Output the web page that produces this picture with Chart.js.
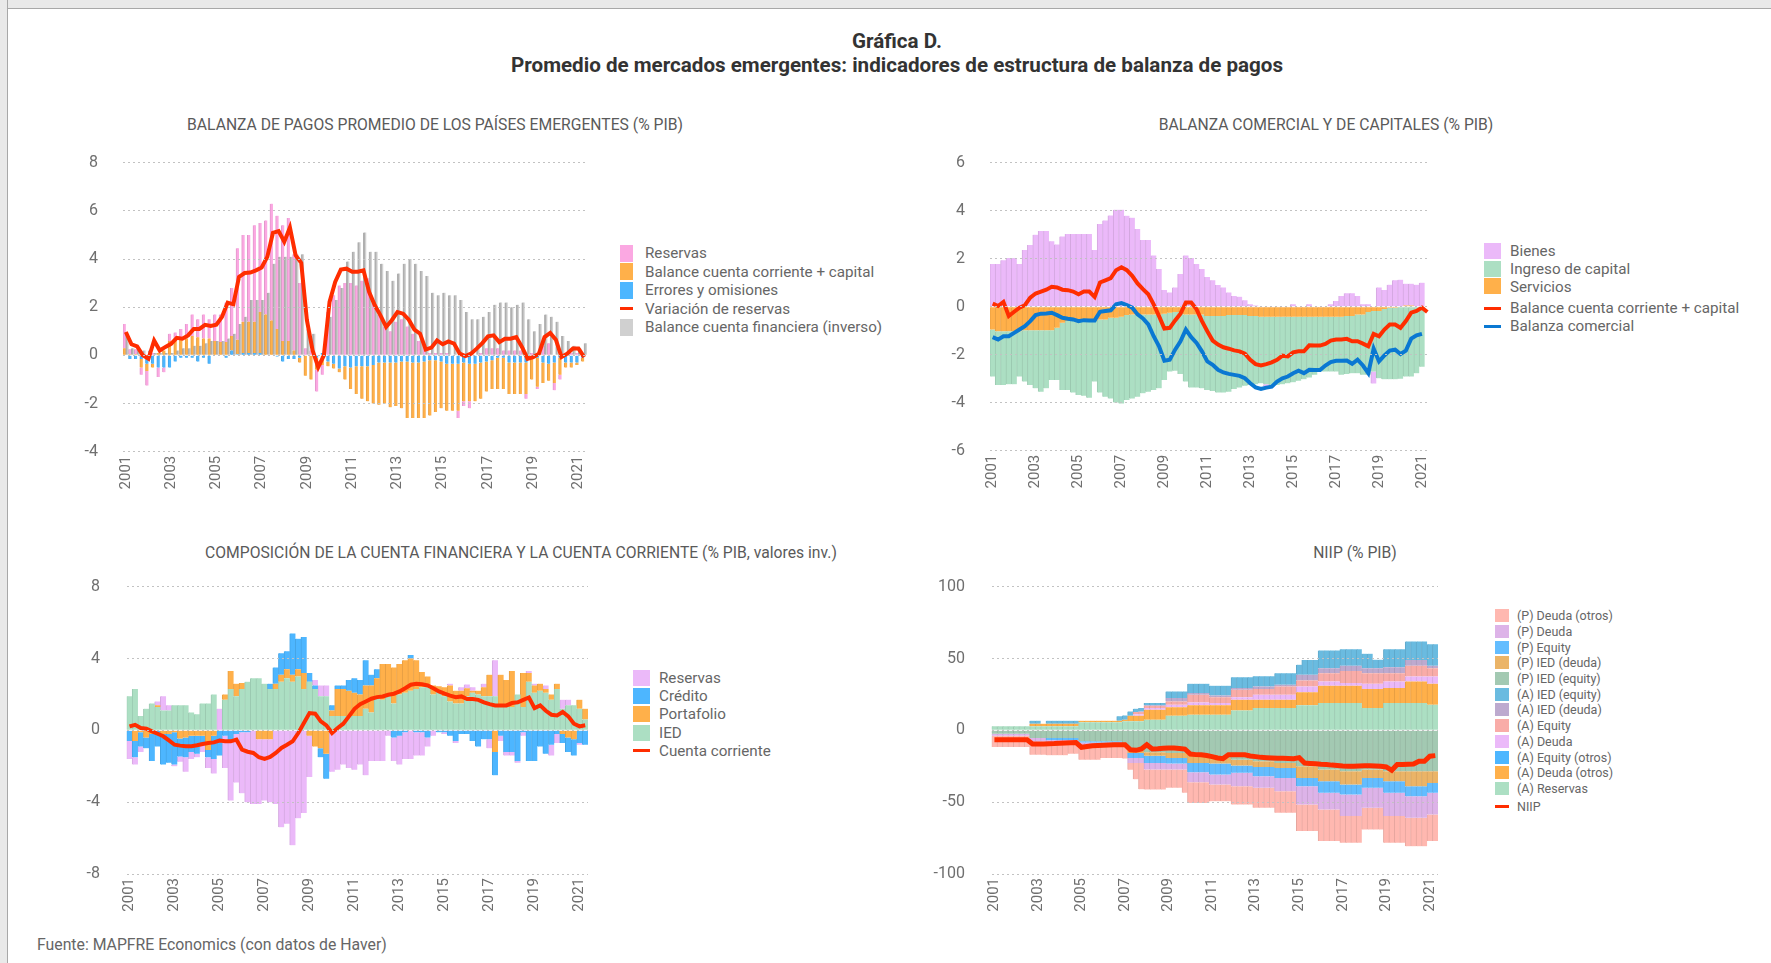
<!DOCTYPE html>
<html lang="es">
<head>
<meta charset="utf-8">
<title>Gráfica D.</title>
<script src="https://cdn.jsdelivr.net/npm/chart.js@4.4.1/dist/chart.umd.min.js"></script>
<style>
  html, body { margin: 0; padding: 0; }
  body { position: relative; width: 1771px; height: 963px; background: #fff; overflow: hidden;
         font-family: Roboto, "Noto Sans", sans-serif; color: #666; }
  .frameTop { position: absolute; left: 0; top: 0; width: 1771px; height: 8px; background: #e9e9e9; border-bottom: 1px solid #a8a8a8; }
  .frameLeft { position: absolute; left: 0; top: 0; width: 7px; height: 963px; background: #e9e9e9; border-right: 1px solid #a8a8a8; }
  .t { position: absolute; width: 900px; text-align: center; white-space: nowrap; }
  .main { font-size: 20.6px; font-weight: 700; color: #333; line-height: 24px; }
  .ptitle { font-size: 15.7px; color: #5a5a5a; line-height: 18px; }
  canvas { position: absolute; }
  .legend { position: absolute; font-size: 15.2px; color: #666; }
  .legend .row { display: flex; align-items: center; white-space: nowrap; }
  .legend .box { flex: none; }
  .legend .ln { flex: none; height: 3px; }
  .foot { position: absolute; left: 37px; top: 935px; font-size: 15.8px; color: #666; line-height: 20px; }
</style>
</head>
<body>
<div class="frameTop"></div>
<div class="frameLeft"></div>

<div class="t main" style="left:447px; top:29px;">Gráfica D.</div>
<div class="t main" style="left:447px; top:53px;">Promedio de mercados emergentes: indicadores de estructura de balanza de pagos</div>

<div class="t ptitle" style="left:-15px; top:116px;">BALANZA DE PAGOS PROMEDIO DE LOS PAÍSES EMERGENTES (% PIB)</div>
<div class="t ptitle" style="left:876px; top:116px;">BALANZA COMERCIAL Y DE CAPITALES (% PIB)</div>
<div class="t ptitle" style="left:71px; top:544px;">COMPOSICIÓN DE LA CUENTA FINANCIERA Y LA CUENTA CORRIENTE (% PIB, valores inv.)</div>
<div class="t ptitle" style="left:905px; top:544px;">NIIP (% PIB)</div>

<canvas id="c1" width="560" height="365" style="left:40px; top:140px;"></canvas>
<canvas id="c2" width="560" height="365" style="left:900px; top:140px;"></canvas>
<canvas id="c3" width="560" height="360" style="left:40px; top:565px;"></canvas>
<canvas id="c4" width="560" height="360" style="left:900px; top:565px;"></canvas>

<div class="legend" id="lg1" style="left:620px; top:244px;"></div>
<div class="legend" id="lg2" style="left:1484px; top:242px;"></div>
<div class="legend" id="lg3" style="left:633px; top:669px;"></div>
<div class="legend" id="lg4" style="left:1495px; top:608px; font-size:12.5px;"></div>

<div class="foot">Fuente: MAPFRE Economics (con datos de Haver)</div>

<script>
// quarters 2001T1 .. 2021T2
const quarters = [];
for (let y = 2001; y <= 2021; y++) {
  for (let q = 1; q <= 4; q++) {
    if (quarters.length < 82) quarters.push(y + 'T' + q);
  }
}

// colours
const PINK = '#fba8e2';
const ORANGE = '#ffb04a';
const BLUE = '#4db6ff';
const RED = '#ff2d00';
const GREY = '#d0d0d0';
const LAVENDER = '#ebb9f9';
const MINT = '#acdfc3';
const DARKBLUE = '#0a78d2';

// ---- panel 1: balanza de pagos promedio ----
const p1Errores = [
  0, -0.15, -0.15, -0.15,
  -0.35, -0.35, -0.5, -0.5,
  -0.5, -0.25, -0.1, -0.1,
  -0.1, -0.25, -0.1, -0.35,
  0, 0, -0.1, 0.2,
  0.05, 0.1, 0.1, 0.1,
  0.1, 0, 0, -0.05,
  -0.25, -0.15, -0.15, -0.1,
  0, 0, -0.1, 0.1,
  -0.25, -0.35, -0.55, -0.45,
  -0.5, -0.45, -0.45, -0.45,
  -0.4, -0.3, -0.3, -0.3,
  -0.3, -0.25, -0.25, -0.3,
  -0.3, -0.25, -0.2, -0.2,
  -0.25, -0.35, -0.35, -0.35,
  -0.3, -0.35, -0.35, -0.3,
  -0.25, -0.2, -0.1, -0.1,
  -0.3, -0.3, -0.3, -0.3,
  -0.05, -0.1, -0.3, -0.35,
  -0.3, -0.1, -0.3, -0.3,
  -0.3, -0.1
];
const p1Corriente = [
  0.3, 0.05, 0.05, -0.35,
  -0.3, -0.15, 0.1, 0.2,
  0.6, 0.6, 0.7, 0.7,
  0.8, 0.75, 0.7, 0.7,
  0.6, 0.55, 0.55, 0.6,
  0.6, 1.3, 1.3, 1.3,
  1.7, 1.7, 1.45, 1.1,
  0.6, 0.6, 0.2, -0.2,
  -0.85, -1.0, -0.5, -0.4,
  -0.2, -0.2, -0.15, -0.55,
  -0.9, -1.15, -1.35, -1.45,
  -1.6, -1.75, -1.7, -1.85,
  -1.8, -1.95, -2.35, -2.3,
  -2.3, -2.35, -2.3, -2.15,
  -1.95, -1.95, -1.95, -1.95,
  -1.6, -1.55, -1.55, -1.5,
  -1.25, -1.2, -1.3, -1.3,
  -1.3, -1.3, -1.3, -1.3,
  -0.95, -1.2, -0.85, -0.7,
  -0.85, -0.7, -0.2, -0.2,
  -0.1, -0.15
];
const p1Reservas = [
  1.0, 0.2, 0.2, -0.3,
  -0.6, 0.1, -0.4, -0.2,
  0.3, 0.35, 0.4, 0.6,
  0.9, 0.75, 1.0, 0.8,
  1.1, 1.15, 1.65, 2.0,
  3.8, 3.6, 3.6, 4.0,
  3.7, 3.9, 4.85, 4.7,
  4.8, 5.1, 4.0, 3.0,
  0.3, 0.2, -0.9, -0.4,
  1.8, 2.5, 2.9, 3.0,
  3.0, 2.9, 3.1, 3.2,
  2.2, 1.7, 1.2, 1.0,
  1.4, 1.5, 1.2, 0.9,
  0.6, 0.4, 0.1, 0.1,
  0.1, 0.1, 0.0, -0.3,
  -0.2, -0.3, 0.0, 0.1,
  0.3, 0.3, 0.3, 0.2,
  0.2, 0.2, 0.2, -0.2,
  0.1, -0.1, 0.4, 0.5,
  -0.3, -0.2, 0.0, 0.1,
  0.1, 0.1
];
const p1Financiera = [
  0.9, 0.3, 0.3, 0.2,
  0.2, 0.1, 0.1, 0.1,
  0.1, 0.2, 0.3, 0.3,
  0.4, 0.4, 0.5, 0.6,
  0.6, 0.6, 0.7, 0.9,
  1.3, 1.6, 2.3, 2.3,
  2.3, 2.6, 3.8, 4.1,
  4.1, 4.1, 4.2, 4.2,
  1.1, 0.9, 0.0, 0.0,
  1.6, 2.3, 2.8, 3.9,
  4.3, 4.7, 5.1, 4.3,
  4.3, 3.8, 3.5, 3.1,
  3.4, 3.8, 4.0, 3.8,
  3.5, 3.3, 2.6, 2.5,
  2.6, 2.5, 2.5, 2.3,
  1.8, 1.5, 1.5, 1.6,
  1.8, 2.1, 2.2, 2.2,
  2.0, 2.1, 2.2, 1.5,
  1.0, 1.3, 1.7, 1.6,
  1.4, 0.8, 0.6, 0.4,
  0.3, 0.5
];
const p1Variacion = [
  0.97, 0.46, 0.37, 0.0,
  -0.14, 0.62, 0.2, 0.35,
  0.48, 0.73, 0.69, 0.83,
  1.1, 1.1, 1.27, 1.22,
  1.27, 1.6, 2.19, 2.12,
  3.26, 3.42, 3.44, 3.53,
  3.65, 4.09, 5.09, 5.16,
  4.72, 5.31, 4.16, 3.84,
  1.46, 0.21, -0.49, 0.0,
  2.22, 3.05, 3.56, 3.6,
  3.47, 3.47, 3.53, 2.63,
  2.08, 1.66, 1.18, 1.46,
  1.8, 1.73, 1.48, 1.07,
  0.9, 0.24, 0.32, 0.62,
  0.46, 0.58, 0.49, 0.07,
  -0.03, 0.07, 0.28, 0.51,
  0.79, 0.83, 0.55, 0.69,
  0.69, 0.76, 0.35, -0.14,
  -0.07, 0.07, 0.76, 0.93,
  0.65, -0.07, 0.07, 0.28,
  0.28, -0.07
];

// ---- panel 2: balanza comercial y de capitales ----
const p2Bienes = [
  1.78, 1.78, 1.94, 2.03,
  2.03, 1.78, 2.36, 2.57,
  3.0, 3.15, 3.15, 2.73,
  2.59, 2.92, 3.03, 3.03,
  3.03, 3.03, 3.03, 2.36,
  3.45, 3.59, 3.8, 4.04,
  4.04, 3.79, 3.71, 3.24,
  2.78, 2.78, 2.13, 1.57,
  0.7, 0.59, 0.8, 1.36,
  2.13, 2.03, 1.78, 1.57,
  1.24, 1.1, 0.9, 0.8,
  0.59, 0.45, 0.41, 0.27,
  0.1, 0.05, 0.0, -0.1,
  -0.1, 0.0, 0.0, 0.0,
  0.1, 0.0, 0.0, 0.1,
  0.0, 0.0, 0.0, 0.1,
  0.24, 0.45, 0.56, 0.56,
  0.45, 0.1, 0.1, -0.5,
  0.8, 0.7, 0.91, 1.1,
  1.1, 0.91, 0.91, 0.91,
  1.0, null
];
const p2Ingreso = [
  -1.96, -2.24, -2.24, -2.21,
  -2.21, -1.89, -2.14, -2.28,
  -2.42, -2.56, -2.42, -2.07,
  -2.17, -2.8, -2.87, -2.97,
  -3.08, -3.11, -3.19, -2.52,
  -3.04, -3.22, -3.36, -3.53,
  -3.61, -3.54, -3.5, -3.43,
  -3.29, -3.22, -3.15, -3.08,
  -2.76, -2.45, -2.45, -2.58,
  -2.8, -3.05, -3.05, -3.08,
  -3.08, -3.12, -3.18, -3.18,
  -3.19, -3.08, -3.02, -2.94,
  -2.87, -2.84, -2.77, -2.81,
  -2.84, -2.84, -2.81, -2.77,
  -2.73, -2.67, -2.6, -2.53,
  -2.42, -2.28, -2.28, -2.28,
  -2.28, -2.42, -2.41, -2.38,
  -2.45, -2.52, -2.62, -2.52,
  -2.8, -2.92, -2.98, -2.98,
  -3.0, -2.91, -2.91, -2.77,
  -2.5, null
];
const p2Servicios = [
  -0.95, -1.02, -1.02, -1.02,
  -1.02, -1.02, -0.98, -0.98,
  -0.98, -0.98, -0.98, -0.98,
  -0.88, -0.67, -0.6, -0.6,
  -0.6, -0.6, -0.6, -0.6,
  -0.53, -0.53, -0.46, -0.46,
  -0.42, -0.35, -0.32, -0.32,
  -0.32, -0.32, -0.32, -0.32,
  -0.29, -0.25, -0.22, -0.22,
  -0.32, -0.32, -0.32, -0.32,
  -0.39, -0.39, -0.39, -0.39,
  -0.35, -0.35, -0.35, -0.35,
  -0.39, -0.39, -0.42, -0.42,
  -0.42, -0.42, -0.42, -0.42,
  -0.42, -0.42, -0.42, -0.42,
  -0.42, -0.42, -0.42, -0.42,
  -0.42, -0.42, -0.39, -0.39,
  -0.32, -0.32, -0.22, -0.18,
  -0.18, -0.1, -0.04, -0.04,
  0.02, 0.05, 0.05, 0.0,
  0.0, null
];
const p2CuentaCorriente = [
  0.13, 0.03, 0.2, -0.39,
  -0.21, -0.04, 0.06, 0.38,
  0.55, 0.63, 0.71, 0.83,
  0.8, 0.71, 0.69, 0.63,
  0.52, 0.63, 0.63, 0.41,
  1.01, 1.1, 1.19, 1.52,
  1.64, 1.52, 1.29, 0.97,
  0.73, 0.52, 0.1, -0.39,
  -0.91, -0.88, -0.57, -0.29,
  0.17, 0.17, -0.11, -0.6,
  -1.02, -1.41, -1.58, -1.69,
  -1.75, -1.82, -1.86, -1.96,
  -2.21, -2.39, -2.45, -2.39,
  -2.32, -2.21, -2.04, -2.07,
  -1.9, -1.86, -1.86, -1.61,
  -1.62, -1.62, -1.55, -1.41,
  -1.37, -1.37, -1.34, -1.44,
  -1.44, -1.54, -1.65, -1.13,
  -1.23, -0.95, -0.74, -0.74,
  -0.88, -0.6, -0.25, -0.18,
  -0.04, -0.22
];
const p2Comercial = [
  -1.27, -1.37, -1.23, -1.23,
  -1.09, -0.95, -0.81, -0.6,
  -0.35, -0.29, -0.28, -0.25,
  -0.35, -0.46, -0.5, -0.53,
  -0.6, -0.56, -0.57, -0.57,
  -0.21, -0.18, -0.15, 0.1,
  0.15, 0.07, -0.04, -0.32,
  -0.49, -0.74, -1.23, -1.65,
  -2.25, -2.21, -1.79, -1.44,
  -0.95, -1.27, -1.51, -1.86,
  -2.28, -2.42, -2.63, -2.74,
  -2.8, -2.84, -2.88, -2.98,
  -3.19, -3.36, -3.43, -3.37,
  -3.33, -3.12, -2.98, -2.91,
  -2.77, -2.67, -2.77, -2.63,
  -2.64, -2.64, -2.45, -2.31,
  -2.25, -2.25, -2.24, -2.38,
  -2.21, -2.45, -2.77, -1.75,
  -2.28, -2.03, -1.83, -1.79,
  -1.97, -1.83, -1.33, -1.19,
  -1.13, null
];

// ---- panel 3: composición de la cuenta financiera ----
const p3IED = [
  1.9, 2.3, 0.8, 1.2,
  1.5, 1.3, 1.1, 1.1,
  1.4, 1.4, 1.4, 1.0,
  0.9, 1.5, 1.5, 2.0,
  0, 1.7, 2.3, 1.9,
  2.3, 2.7, 2.9, 2.9,
  2.6, 2.3, 2.3, 2.7,
  2.9, 2.7, 3.0, 2.3,
  2.7, 2.3, 1.9, 1.9,
  0.8, 0.8, 0.8, 0.8,
  0.8, 0.8, 1.2, 1.0,
  1.9, 1.7, 2.0, 1.5,
  2.0, 2.1, 2.2, 2.3,
  2.4, 2.4, 2.0, 2.2,
  1.9, 1.6, 1.5, 1.5,
  1.9, 2.1, 2.0, 1.9,
  1.9, 1.9, 1.3, 1.3,
  1.3, 2.0, 1.3, 2.7,
  2.1, 2.2, 2.1, 1.7,
  2.3, 1.2, 1.4, 1.4,
  1.2, 0.6
];
const p3Portafolio = [
  0, -0.6, -0.1, -0.4,
  -0.2, 0.1, -0.2, -0.2,
  -0.1, -0.45, -0.4, -0.3,
  -0.3, -0.3, -1.1, -0.3,
  0, 0.3, 1.0, 0.7,
  0.34, 0, 0, -0.5,
  -0.5, -0.5, 0.3, 0.4,
  0.5, 0.4, 0.4, 0.9,
  -0.3, -0.9, -1.0, -1.3,
  0.3, 1.5, 1.5, 1.4,
  1.3, 1.2, 1.3, 1.5,
  1.0, 2.0, 1.7, 2.0,
  1.7, 1.8, 1.8, 1.6,
  0.85, 0.6, 0.5, 0.25,
  0.5, 0.9, 0.7, 0.7,
  0.45, 0.1, 0.2, 0.5,
  1.2, -1.2, 1.8, 1.5,
  2.0, 0.0, 1.9, 0.5,
  0.4, 0.4, 0.2, 0.3,
  0.3, -0.2, -0.4, -0.5,
  0.5, 0.6
];
const p3Credito = [
  -0.6, -0.9, -0.8, -0.6,
  -1.5, -0.9, -1.7, -1.6,
  -1.8, -1.0, -1.1, -0.9,
  -1.0, -0.4, -0.4, -1.3,
  -1.4, -0.3, -0.6, -0.2,
  -0.1, -0.1, 0, 0,
  0, 0.3, 0.9, 1.2,
  1.0, 2.3, 1.7, 2.0,
  0.5, 0.2, -0.5, -1.4,
  0.3, 0.2, 0.2, 0.6,
  0.8, 0.8, 1.4, 0.6,
  0.5, 0, 0, -0.4,
  -0.3, -0.1, 0.2, -0.1,
  -0.1, -0.4, 0, -0.1,
  -0.1, -0.3, -0.6, -0.2,
  -0.2, -0.6, -0.9, -0.5,
  -0.5, -1.3, -0.3, -1.2,
  -1.2, -1.7, -0.1, -1.7,
  -1.7, -0.9, -1.3, -0.8,
  -0.2, -0.5, -0.8, -0.9,
  -0.7, -0.8
];
const p3Reservas = [
  -1.0, -0.4, -0.3, 0,
  0, 0.2, 0.8, 0.3,
  -0.1, -0.3, -0.8, -0.4,
  -0.2, -0.5, -0.6, -0.8,
  1.2, -1.8, -3.3, -2.7,
  -3.4, -3.9, -4.1, -3.6,
  -3.4, -3.5, -4.1, -5.4,
  -5.2, -6.4, -4.9, -4.6,
  -2.3, 0.3, 0.6, 0.6,
  -2.3, -2.2, -1.9, -2.1,
  -2.2, -1.9, -2.5, -1.7,
  -1.7, -1.7, -0.3, -1.3,
  -1.6, -1.5, -1.6, -1.3,
  -1.3, -0.5, -0.3, 0,
  -0.1, 0.1, -0.1, 0.2,
  0.2, 0.2, 0, 0.2,
  -0.5, 2.0, -0.3, -0.2,
  -0.2, -0.1, -0.2, 0.1,
  0.1, 0, 0.2, -0.6,
  -0.5, 0.5, 0.3, 0,
  -0.1, 0
];
const p3CuentaCorriente = [
  0.22, 0.31, 0.13, 0.09,
  -0.06, -0.19, -0.33, -0.56,
  -0.8, -0.85, -0.89, -0.89,
  -0.83, -0.76, -0.7, -0.67,
  -0.57, -0.61, -0.61, -0.52,
  -1.07, -1.19, -1.26, -1.5,
  -1.59, -1.48, -1.26, -0.98,
  -0.8, -0.61, -0.15, 0.41,
  0.96, 0.93, 0.5, 0.28,
  -0.15, 0.13, 0.37, 0.78,
  1.2, 1.46, 1.61, 1.76,
  1.85, 1.89, 1.98, 2.04,
  2.17, 2.35, 2.54, 2.59,
  2.57, 2.5, 2.35, 2.17,
  2.04, 1.93, 1.85, 1.89,
  1.74, 1.74, 1.7, 1.56,
  1.46, 1.39, 1.39, 1.39,
  1.52, 1.56, 1.7, 1.83,
  1.24, 1.39, 1.09, 0.87,
  0.83, 1.02, 0.78, 0.37,
  0.22, 0.28
];

// ---- panel 4: NIIP ----
const p4PDeudaOtros = [
  -7.9, -7.9, -7.9, -7.9,
  -7.9, -7.9, -7.9, -9.1,
  -9.1, -9.1, -9.1, -9.1,
  -9.1, -9.1, -8.0, -8.0,
  -9.7, -9.7, -9.7, -9.7,
  -8.5, -8.5, -8.5, -8.5,
  -8.0, -4.8, -11.3, -18.3,
  -13.9, -13.9, -13.9, -13.9,
  -12.7, -12.7, -12.7, -16.2,
  -14.4, -14.4, -14.4, -14.4,
  -11.6, -11.6, -11.6, -11.6,
  -12.7, -12.7, -12.7, -12.7,
  -13.9, -13.9, -13.9, -13.9,
  -15.0, -15.0, -15.0, -15.0,
  -18.5, -18.5, -18.5, -18.5,
  -22.0, -22.0, -22.0, -22.0,
  -18.5, -18.5, -18.5, -18.5,
  -15.1, -15.1, -15.1, -15.1,
  -18.5, -18.5, -18.5, -18.5,
  -19.7, -19.7, -19.7, -19.7,
  -18.5, -18.5
];
const p4PDeuda = [
  -1.4, -1.4, -1.4, -1.4,
  -1.4, -1.4, -1.4, -2.5,
  -2.5, -2.5, -1.5, -1.5,
  -1.5, -1.5, -1.5, -1.5,
  -2.3, -2.3, -2.3, -2.3,
  -2.3, -2.3, -2.3, -2.3,
  -2.0, -3.5, -3.5, -3.5,
  -4.6, -4.6, -4.6, -4.6,
  -4.2, -4.2, -4.2, -4.2,
  -6.9, -6.9, -6.9, -6.9,
  -6.9, -6.9, -6.9, -6.9,
  -9.3, -9.3, -9.3, -9.3,
  -8.1, -8.1, -8.1, -8.1,
  -9.3, -9.3, -9.3, -9.3,
  -12.7, -12.7, -12.7, -12.7,
  -11.6, -11.6, -11.6, -11.6,
  -15.0, -15.0, -15.0, -15.0,
  -13.9, -13.9, -13.9, -13.9,
  -16.2, -16.2, -16.2, -16.2,
  -15.1, -15.1, -15.1, -15.1,
  -15.1, -15.1
];
const p4PEquity = [
  0, 0, 0, 0,
  0, 0, 0, 0,
  0, 0, -1.5, -1.5,
  -1.5, -1.5, -1.5, -1.5,
  -0.8, -0.8, -0.8, -0.8,
  -0.8, -0.8, -0.8, -0.8,
  -0.8, -3.5, -3.5, -3.5,
  -5.1, -5.1, -5.1, -5.1,
  -3.9, -3.9, -3.9, -3.9,
  -6.5, -6.5, -6.5, -6.5,
  -7.7, -7.7, -7.7, -7.7,
  -5.1, -5.1, -5.1, -5.1,
  -6.4, -6.4, -6.4, -6.4,
  -6.9, -6.9, -6.9, -6.9,
  -5.8, -5.8, -5.8, -5.8,
  -8.1, -8.1, -8.1, -8.1,
  -7.0, -7.0, -7.0, -7.0,
  -6.9, -6.9, -6.9, -6.9,
  -8.1, -8.1, -8.1, -8.1,
  -6.9, -6.9, -6.9, -6.9,
  -6.9, -6.9
];
const p4PIEDDeuda = [
  0, 0, 0, 0,
  0, 0, 0, 0,
  0, 0, 0, 0,
  0, 0, 0, 0,
  0, 0, 0, 0,
  0, 0, 0, 0,
  0, -2.3, -2.3, -2.3,
  -2.3, -2.3, -2.3, -2.3,
  -3.5, -3.5, -3.5, -3.5,
  -5.8, -5.8, -5.8, -5.8,
  -3.9, -3.9, -3.9, -3.9,
  -4.1, -4.1, -4.1, -4.1,
  -4.0, -4.0, -4.0, -4.0,
  -3.5, -3.5, -3.5, -3.5,
  -8.1, -8.1, -8.1, -8.1,
  -8.1, -8.1, -8.1, -8.1,
  -9.2, -9.2, -9.2, -9.2,
  -5.8, -5.8, -5.8, -5.8,
  -6.9, -6.9, -6.9, -6.9,
  -10.4, -10.4, -10.4, -10.4,
  -8.1, -8.1
];
const p4PIEDEquity = [
  -2.3, -2.3, -2.3, -2.3,
  -2.3, -2.3, -2.3, -5.3,
  -5.3, -5.3, -5.3, -5.3,
  -5.3, -5.3, -5.3, -5.3,
  -7.6, -7.6, -7.6, -7.6,
  -7.6, -7.6, -7.6, -7.6,
  -8.8, -13.4, -13.4, -13.4,
  -15.3, -15.3, -15.3, -15.3,
  -15.7, -15.7, -15.7, -15.7,
  -16.9, -16.9, -16.9, -16.9,
  -19.2, -19.2, -19.2, -19.2,
  -20.4, -20.4, -20.4, -20.4,
  -21.5, -21.5, -21.5, -21.5,
  -22.7, -22.7, -22.7, -22.7,
  -25.0, -25.0, -25.0, -25.0,
  -27.3, -27.3, -27.3, -27.3,
  -28.5, -28.5, -28.5, -28.5,
  -27.3, -27.3, -27.3, -27.3,
  -28.5, -28.5, -28.5, -28.5,
  -28.5, -28.5, -28.5, -28.5,
  -28.5, -28.5
];
const p4AIEDEquity = [
  0, 0, 0, 0,
  0, 0, 0, 2.1,
  2.1, 0, 2.1, 2.1,
  2.1, 2.1, 2.1, 2.1,
  0, 0, 0, 0,
  0, 0, 0, 3.2,
  3.0, 3.0, 2.3, 2.3,
  1.5, 1.5, 1.5, 1.5,
  4.5, 4.5, 4.5, 4.5,
  6.4, 6.4, 6.4, 6.4,
  6.8, 6.8, 6.8, 6.8,
  7.6, 7.6, 7.6, 7.6,
  7.0, 7.0, 7.0, 7.0,
  8.0, 8.0, 8.0, 8.0,
  6.9, 10.3, 10.3, 10.3,
  12.3, 12.3, 12.3, 12.3,
  11.6, 11.6, 11.6, 11.6,
  10.0, 10.0, 5.8, 5.8,
  12.5, 12.5, 12.5, 12.5,
  12.8, 12.8, 12.8, 12.8,
  15.1, 15.1
];
const p4AIEDDeuda = [
  0, 0, 0, 0,
  0, 0, 0, 0,
  0, 0, 0, 0,
  0, 0, 0, 0,
  0, 0, 0, 0,
  0, 0, 0, 0,
  0, 0, 0, 0.5,
  0.5, 0.5, 0.5, 0.5,
  2.4, 2.4, 2.4, 2.4,
  1.2, 1.2, 1.2, 1.2,
  1.2, 1.2, 1.2, 1.2,
  1.2, 1.2, 1.2, 1.2,
  1.9, 1.9, 1.9, 1.9,
  1.2, 1.2, 1.2, 1.2,
  4.0, 4.0, 4.0, 4.0,
  3.5, 3.5, 3.5, 3.5,
  3.5, 3.5, 3.5, 3.5,
  3.5, 3.5, 3.5, 3.5,
  4.2, 4.2, 4.2, 4.2,
  4.1, 4.1, 4.1, 4.1,
  1.6, 1.6
];
const p4AEquity = [
  0, 0, 0, 0,
  0, 0, 0, 0,
  0, 0, 0, 0,
  0, 0, 0, 0,
  0, 0, 0, 0,
  0, 0, 0, 0,
  0, 0, 1.5, 1.5,
  1.5, 1.5, 1.5, 1.5,
  2.3, 2.3, 2.3, 2.3,
  5.4, 5.4, 5.4, 5.4,
  4.0, 4.0, 4.0, 4.0,
  5.2, 5.2, 5.2, 5.2,
  3.9, 3.9, 3.9, 3.9,
  5.8, 5.8, 5.8, 5.8,
  4.1, 4.1, 4.1, 4.1,
  5.8, 5.8, 5.8, 5.8,
  8.5, 8.5, 8.5, 8.5,
  7.4, 7.4, 7.4, 7.4,
  5.8, 5.8, 5.8, 5.8,
  7.4, 7.4, 7.4, 7.4,
  5.8, 5.8
];
const p4ADeuda = [
  0, 0, 0, 0,
  0, 0, 0, 0,
  0, 0, 0, 0,
  0, 0, 0, 0,
  0, 0, 0, 0,
  0, 0, 0, 0,
  0, 0, 1.0, 1.0,
  1.1, 1.1, 1.1, 1.1,
  1.8, 1.8, 1.8, 1.8,
  2.0, 2.0, 2.0, 2.0,
  1.6, 1.6, 1.6, 1.6,
  1.7, 1.7, 1.7, 1.7,
  3.5, 3.5, 3.5, 3.5,
  3.5, 3.5, 3.5, 3.5,
  4.0, 4.0, 4.0, 4.0,
  3.0, 3.0, 3.0, 3.0,
  1.9, 1.9, 1.9, 1.9,
  3.7, 3.7, 3.7, 3.7,
  4.6, 4.6, 4.6, 4.6,
  3.5, 3.5, 3.5, 3.5,
  5.1, 5.1
];
const p4AEquityOtros = [
  0, 0, 0, 0, 0, 0, 0, 0, 0, 0, 0, 0, 0, 0, 0, 0, 0, 0, 0, 0,
  0, 0, 0, 0, 0, 0, 0, 0, 0, 0, 0, 0, 0, 0, 0, 0, 0, 0, 0, 0,
  0, 0, 0, 0, 0, 0, 0, 0, 0, 0, 0, 0, 0, 0, 0, 0, 0, 0, 0, 0,
  0, 0, 0, 0, 0, 0, 0, 0, 0, 0, 0, 0, 0, 0, 0, 0, 0, 0, 0, 0,
  0, 0
];
const p4ADeudaOtros = [
  0, 0, 0, 0,
  0, 0, 0, 1.8,
  1.8, 1.8, 1.8, 1.8,
  1.8, 1.8, 1.8, 1.8,
  1.1, 1.1, 1.1, 1.1,
  1.1, 1.1, 1.1, 1.1,
  1.1, 3.9, 3.9, 3.9,
  7.0, 7.0, 7.0, 7.0,
  5.8, 5.8, 5.8, 5.8,
  6.5, 6.5, 6.5, 6.5,
  6.5, 6.5, 6.5, 6.5,
  7.4, 7.4, 7.4, 7.4,
  5.8, 5.8, 5.8, 5.8,
  5.8, 5.8, 5.8, 5.8,
  9.2, 9.2, 9.2, 9.2,
  12.0, 12.0, 12.0, 12.0,
  12.0, 12.0, 12.0, 12.0,
  13.2, 13.2, 13.2, 13.2,
  10.4, 10.4, 10.4, 10.4,
  15.0, 15.0, 15.0, 15.0,
  14.6, 14.6
];
const p4AReservas = [
  2.8, 2.8, 2.8, 2.8,
  2.8, 2.8, 2.8, 2.8,
  2.8, 2.8, 2.8, 2.8,
  2.8, 2.8, 2.8, 2.8,
  5.6, 5.6, 5.6, 5.6,
  5.6, 5.6, 5.6, 5.6,
  6.3, 6.3, 6.3, 6.3,
  7.4, 7.4, 7.4, 7.4,
  10.2, 10.2, 10.2, 10.2,
  10.9, 10.9, 10.9, 10.9,
  10.9, 10.9, 10.9, 10.9,
  13.9, 13.9, 13.9, 13.9,
  15.5, 15.5, 15.5, 15.5,
  15.5, 15.5, 15.5, 15.5,
  17.4, 17.4, 17.4, 17.4,
  19.0, 19.0, 19.0, 19.0,
  19.0, 19.0, 19.0, 19.0,
  15.5, 15.5, 15.5, 15.5,
  19.0, 19.0, 19.0, 19.0,
  19.0, 19.0, 19.0, 19.0,
  17.8, 17.8
];
const p4NIIP = [
  -6.5, -6.5, -6.5, -6.5,
  -6.5, -6.5, -6.5, -9.5,
  -9.5, -9.5, -9.3, -9.2,
  -9.0, -8.8, -8.6, -8.5,
  -11.8, -11.3, -10.8, -10.6,
  -10.4, -10.2, -10.0, -10.0,
  -10.0, -13.5, -13.9, -13.0,
  -10.0, -13.0, -12.8, -12.5,
  -12.3, -12.3, -12.6, -13.0,
  -16.5, -16.9, -17.0, -17.5,
  -18.3, -19.2, -19.7, -17.0,
  -16.9, -16.9, -17.0, -17.8,
  -18.3, -18.8, -19.0, -19.2,
  -19.4, -19.5, -19.6, -19.7,
  -19.0, -22.7, -23.0, -23.3,
  -23.6, -23.8, -24.2, -24.5,
  -24.8, -25.0, -25.0, -24.8,
  -24.6, -24.6, -24.8, -25.0,
  -25.5, -27.8, -23.8, -23.8,
  -23.6, -23.4, -21.5, -21.5,
  -18.0, -17.6
];

// helpers
function shade(hex, f) {
  const n = parseInt(hex.slice(1), 16);
  const r = Math.round(((n >> 16) & 255) * f);
  const g = Math.round(((n >> 8) & 255) * f);
  const b = Math.round((n & 255) * f);
  return 'rgb(' + r + ',' + g + ',' + b + ')';
}

function bar(label, data, color, extra) {
  return Object.assign({
    type: 'bar', label: label, data: data,
    backgroundColor: color, borderColor: shade(color, 0.9),
    borderWidth: { left: 1, right: 0, top: 0, bottom: 0 }, borderSkipped: false,
    barPercentage: 1, categoryPercentage: 1, inflateAmount: 0.5, order: 2
  }, extra || {});
}

function line(label, data, color, width, stack) {
  return {
    type: 'line', label: label, data: data, borderColor: color, backgroundColor: color,
    borderWidth: width, pointRadius: 0, tension: 0, fill: false, stack: stack, order: 0
  };
}

// the plot area is placed by hand: label overhang paddings are switched off
function makeOptions(cfg) {
  return {
    responsive: false,
    animation: false,
    devicePixelRatio: 1,
    layout: { padding: { top: cfg.area.top, right: cfg.width - cfg.area.right, left: 0, bottom: 0 } },
    plugins: { legend: { display: false }, tooltip: { enabled: false } },
    scales: {
      x: {
        stacked: true, offset: true,
        grid: { display: false, drawTicks: false }, border: { display: false },
        ticks: {
          autoSkip: false, minRotation: 90, maxRotation: 90, padding: 4,
          color: '#6f6f6f', font: { family: 'Roboto', size: 15 },
          callback: (v, i) => (i % 8 === 0 ? quarters[i].slice(0, 4) : '')
        },
        afterFit: s => {
          s.height = cfg.xHeight;
          s.paddingLeft = 0; s.paddingRight = 0; s.paddingTop = 0; s.paddingBottom = 0;
        }
      },
      x2: { type: 'category', display: false, offset: true },
      y: {
        stacked: true, min: cfg.min, max: cfg.max,
        ticks: { stepSize: cfg.step, padding: cfg.tickPad, color: '#6f6f6f', font: { family: 'Roboto', size: 16 } },
        grid: { color: '#c2c2c2', lineWidth: 1, drawTicks: false, z: 1 },
        border: { display: false, dash: [2, 3] },
        afterFit: s => {
          s.width = cfg.yWidth;
          s.paddingLeft = 0; s.paddingRight = 0; s.paddingTop = 0; s.paddingBottom = 0;
        }
      }
    }
  };
}

function buildChart(id, datasets, cfg) {
  const canvas = document.getElementById(id);
  cfg.width = canvas.width;
  cfg.xHeight = canvas.height - cfg.area.bottom;
  cfg.yWidth = cfg.area.left;
  const options = makeOptions(cfg);
  return new Chart(canvas, { type: 'bar', data: { labels: quarters, datasets: datasets }, options: options });
}

// panel 1
buildChart('c1', [
  line('Variación de reservas', p1Variacion, RED, 4, 'l1'),
  bar('Balance cuenta financiera (inverso)', p1Financiera, 'rgba(178,178,178,0.6)',
      { xAxisID: 'x2', order: 1, borderColor: 'rgba(140,140,140,0.7)' }),
  bar('Errores y omisiones', p1Errores, BLUE),
  bar('Balance cuenta corriente + capital', p1Corriente, ORANGE),
  bar('Reservas', p1Reservas, PINK)
], { area: { left: 83, top: 22.7, right: 547, bottom: 311.7 }, tickPad: 25, min: -4, max: 8, step: 2 });

// panel 2
buildChart('c2', [
  line('Balance cuenta corriente + capital', p2CuentaCorriente, RED, 4, 'l1'),
  line('Balanza comercial', p2Comercial, DARKBLUE, 4, 'l2'),
  bar('Servicios', p2Servicios, ORANGE),
  bar('Ingreso de capital', p2Ingreso, MINT),
  bar('Bienes', p2Bienes, LAVENDER)
], { area: { left: 90, top: 22.7, right: 530, bottom: 310.7 }, tickPad: 25, min: -6, max: 6, step: 2 });

// panel 3
buildChart('c3', [
  line('Cuenta corriente', p3CuentaCorriente, RED, 4, 'l1'),
  bar('IED', p3IED, MINT),
  bar('Portafolio', p3Portafolio, ORANGE),
  bar('Crédito', p3Credito, BLUE),
  bar('Reservas', p3Reservas, LAVENDER)
], { area: { left: 86.7, top: 21.7, right: 548, bottom: 309 }, tickPad: 26.7, min: -8, max: 8, step: 4 });

// panel 4
const p4Colors = {
  pDeudaOtros: '#ffb8b0', pDeuda: '#ddb3e8', pEquity: '#63bdff', pIEDDeuda: '#ebb467', pIEDEquity: '#a3c9b2',
  aIEDEquity: '#6abbe0', aIEDDeuda: '#bdaacf', aEquity: '#f9aca8', aDeuda: LAVENDER, aEquityOtros: BLUE,
  aDeudaOtros: ORANGE, aReservas: MINT
};
buildChart('c4', [
  line('NIIP', p4NIIP, RED, 5, 'l1'),
  bar('(A) Reservas', p4AReservas, p4Colors.aReservas),
  bar('(A) Deuda (otros)', p4ADeudaOtros, p4Colors.aDeudaOtros),
  bar('(A) Equity (otros)', p4AEquityOtros, p4Colors.aEquityOtros),
  bar('(A) Deuda', p4ADeuda, p4Colors.aDeuda),
  bar('(A) Equity', p4AEquity, p4Colors.aEquity),
  bar('(A) IED (deuda)', p4AIEDDeuda, p4Colors.aIEDDeuda),
  bar('(A) IED (equity)', p4AIEDEquity, p4Colors.aIEDEquity),
  bar('(P) IED (equity)', p4PIEDEquity, p4Colors.pIEDEquity),
  bar('(P) IED (deuda)', p4PIEDDeuda, p4Colors.pIEDDeuda),
  bar('(P) Equity', p4PEquity, p4Colors.pEquity),
  bar('(P) Deuda', p4PDeuda, p4Colors.pDeuda),
  bar('(P) Deuda (otros)', p4PDeudaOtros, p4Colors.pDeudaOtros)
], { area: { left: 91.7, top: 21.7, right: 538, bottom: 309 }, tickPad: 26.7, min: -100, max: 100, step: 50 });

// html legends
function legend(id, items, rowH, boxW, boxH, textGap) {
  const el = document.getElementById(id);
  items.forEach(it => {
    const row = document.createElement('div');
    row.className = 'row';
    row.style.height = rowH + 'px';
    if (it.gapBefore) row.style.marginTop = it.gapBefore + 'px';
    const mark = document.createElement('div');
    if (it.line) {
      mark.className = 'ln';
      mark.style.width = boxW + 'px';
      mark.style.background = it.color;
    } else {
      mark.className = 'box';
      mark.style.width = boxW + 'px';
      mark.style.height = boxH + 'px';
      mark.style.background = it.color;
    }
    const txt = document.createElement('span');
    txt.style.marginLeft = textGap + 'px';
    txt.textContent = it.label;
    row.appendChild(mark);
    row.appendChild(txt);
    el.appendChild(row);
  });
}

legend('lg1', [
  { label: 'Reservas', color: PINK },
  { label: 'Balance cuenta corriente + capital', color: ORANGE },
  { label: 'Errores y omisiones', color: BLUE },
  { label: 'Variación de reservas', color: RED, line: true },
  { label: 'Balance cuenta financiera (inverso)', color: GREY }
], 18.5, 13, 17, 12);

legend('lg2', [
  { label: 'Bienes', color: LAVENDER },
  { label: 'Ingreso de capital', color: MINT },
  { label: 'Servicios', color: ORANGE },
  { label: 'Balance cuenta corriente + capital', color: RED, line: true, gapBefore: 4 },
  { label: 'Balanza comercial', color: DARKBLUE, line: true }
], 17.8, 17, 16, 9);

legend('lg3', [
  { label: 'Reservas', color: LAVENDER },
  { label: 'Crédito', color: BLUE },
  { label: 'Portafolio', color: ORANGE },
  { label: 'IED', color: MINT },
  { label: 'Cuenta corriente', color: RED, line: true }
], 18.2, 17, 16, 9);

legend('lg4', [
  { label: '(P) Deuda (otros)', color: p4Colors.pDeudaOtros },
  { label: '(P) Deuda', color: p4Colors.pDeuda },
  { label: '(P) Equity', color: p4Colors.pEquity },
  { label: '(P) IED (deuda)', color: p4Colors.pIEDDeuda },
  { label: '(P) IED (equity)', color: p4Colors.pIEDEquity },
  { label: '(A) IED (equity)', color: p4Colors.aIEDEquity },
  { label: '(A) IED (deuda)', color: p4Colors.aIEDDeuda },
  { label: '(A) Equity', color: p4Colors.aEquity },
  { label: '(A) Deuda', color: p4Colors.aDeuda },
  { label: '(A) Equity (otros)', color: p4Colors.aEquityOtros },
  { label: '(A) Deuda (otros)', color: p4Colors.aDeudaOtros },
  { label: '(A) Reservas', color: p4Colors.aReservas },
  { label: 'NIIP', color: RED, line: true, gapBefore: 2 }
], 15.7, 14, 13, 8);
</script>
</body>
</html>
